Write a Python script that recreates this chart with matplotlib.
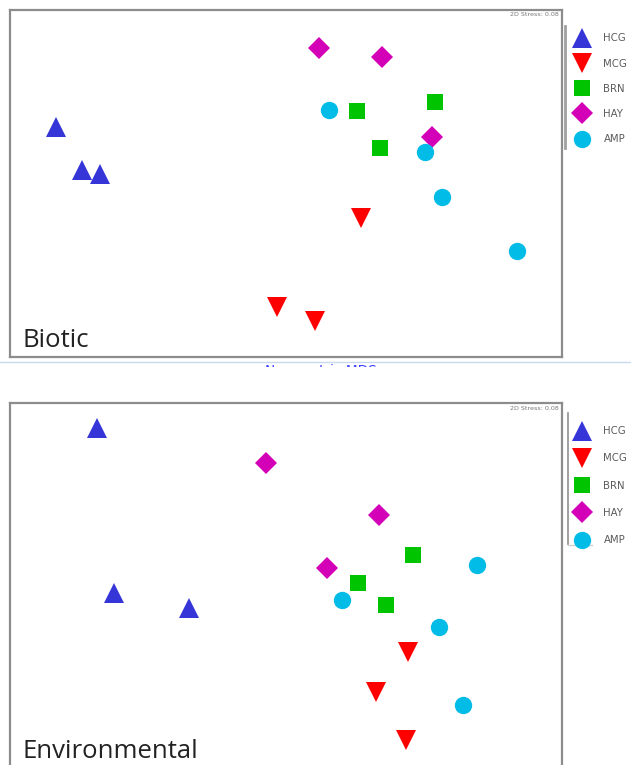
import matplotlib
matplotlib.use("Agg")
import matplotlib.pyplot as plt
from matplotlib.lines import Line2D

groups = ["HCG", "MCG", "BRN", "HAY", "AMP"]
markers = ["^", "v", "s", "D", "o"]
colors = ["#3636d8", "#ff0000", "#00c400", "#d400b8", "#00bce6"]
sizes = [14.5, 14.5, 12, 10.8, 12.5]

# Biotic ordination (MDS axis 1, axis 2)
biotic_x = {
    "HCG": [-1.533, -1.36, -1.24],
    "MCG": [0.50, -0.06, 0.193],
    "BRN": [0.473, 0.993, 0.627],
    "HAY": [0.22, 0.64, 0.973],
    "AMP": [0.287, 0.927, 1.04, 1.54],
}
biotic_y = {
    "HCG": [0.377, 0.09, 0.063],
    "MCG": [-0.23, -0.823, -0.917],
    "BRN": [0.483, 0.543, 0.237],
    "HAY": [0.903, 0.843, 0.31],
    "AMP": [0.49, 0.21, -0.09, -0.45],
}

# Environmental ordination (MDS axis 1, axis 2)
env_x = {
    "HCG": [-1.26, -1.147, -0.647],
    "MCG": [0.813, 0.60, 0.80],
    "BRN": [0.847, 0.48, 0.667],
    "HAY": [-0.133, 0.62, 0.273],
    "AMP": [1.273, 0.373, 1.02, 1.18],
}
env_y = {
    "HCG": [1.05, -0.05, -0.15],
    "MCG": [-0.443, -0.71, -1.03],
    "BRN": [0.203, 0.017, -0.13],
    "HAY": [0.817, 0.47, 0.117],
    "AMP": [0.137, -0.097, -0.277, -0.797],
}

stress_text = "2D Stress: 0.08"
panel_titles = ["Biotic", "Environmental"]
axis_caption = "Non-metric MDS"

W, H = 631, 765
fig = plt.figure(figsize=(W / 100, H / 100), dpi=100)
fig.patch.set_facecolor("white")


def px_axes(x0, y0, x1, y1):
    return fig.add_axes([x0 / W, 1 - y1 / H, (x1 - x0) / W, (y1 - y0) / H])


def draw_panel(ax, xs, ys, title, ylim, leg_anchor, spacing):
    for g, m, c, s in zip(groups, markers, colors, sizes):
        ax.plot(xs[g], ys[g], linestyle="none", marker=m, color=c,
                markersize=s, markeredgewidth=0, label=g)
    ax.set_xlim(-1.84, 1.84)
    ax.set_ylim(*ylim)
    ax.set_xticks([])
    ax.set_yticks([])
    for sp in ax.spines.values():
        sp.set_color("#8c8c8c")
        sp.set_linewidth(1.6)
    ax.text(0.995, 0.993, stress_text, transform=ax.transAxes, ha="right",
            va="top", fontsize=4.6, color="#777777")
    ax.text(0.022, 0.012, title, transform=ax.transAxes, ha="left",
            va="bottom", fontsize=18.5, color="#222222", family="Open Sans")
    leg = ax.legend(loc="upper left", bbox_to_anchor=leg_anchor,
                    frameon=False, fontsize=7.3, labelspacing=spacing,
                    handlelength=1.2, handletextpad=1.5, borderaxespad=0.3,
                    markerscale=1.0)
    for t in leg.get_texts():
        t.set_color("#5a5a5a")
    return leg


# Top panel: biotic
ax1 = px_axes(10, 10, 562, 357)
draw_panel(ax1, biotic_x, biotic_y, panel_titles[0], (-1.157, 1.157),
           (1.0127, 0.953), 1.5)

# Bottom panel: environmental (lower edge runs off the page)
ax2 = px_axes(10, 403, 562, 768)
draw_panel(ax2, env_x, env_y, panel_titles[1], (-1.217, 1.217),
           (1.0127, 0.956), 1.70)

# Legend divider bars (kept behind the legend markers)
fig.add_artist(Line2D([565 / W, 565 / W], [1 - 26 / H, 1 - 148 / H],
                      color="#a0a0a0", linewidth=2.0, zorder=-1))
fig.add_artist(Line2D([568 / W, 568 / W], [1 - 413 / H, 1 - 544 / H],
                      color="#909090", linewidth=1.2, zorder=-1))
fig.add_artist(Line2D([568 / W, 592 / W], [1 - 545 / H, 1 - 545 / H],
                      color="#d0d0d0", linewidth=1.0, zorder=-1))

# Separator line under the top panel
fig.add_artist(Line2D([0, 1], [1 - 361.5 / H, 1 - 361.5 / H],
                      color="#c8d8ee", linewidth=1.0))

# Axis caption, mostly hidden beneath the separator
cap_ax = px_axes(0, 364, W, 367)
cap_ax.set_axis_off()
cap_ax.set_xlim(0, W)
cap_ax.set_ylim(0, 1)
cap_ax.text(320.5, 1.0, axis_caption, ha="center", va="top", fontsize=9.8,
            color="#4040ff", clip_on=True)

fig.savefig("out.png", dpi=100, facecolor="white")
